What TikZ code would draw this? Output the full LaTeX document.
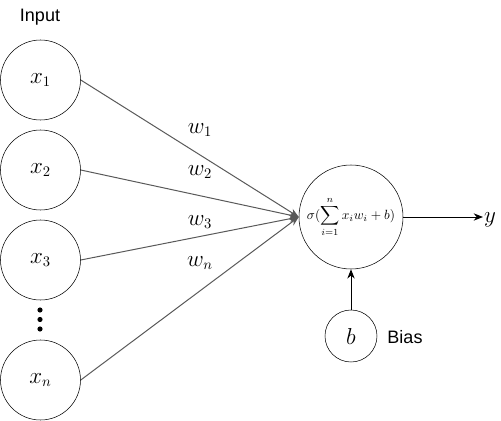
\documentclass[tikz,border=0pt]{standalone}
\usepackage{fontspec}
\usetikzlibrary{arrows.meta}
\newfontfamily\labelfont{Liberation Sans}

\tikzset{
  input/.style={draw, circle, minimum size=60pt, inner sep=0pt, font=\fontsize{16}{18}\selectfont},
  neuron/.style={draw, circle, minimum size=78pt, inner sep=0pt, font=\fontsize{10}{12}\selectfont},
  bias/.style={draw, circle, minimum size=39pt, inner sep=0pt, font=\fontsize{16}{18}\selectfont},
  weight/.style={font=\fontsize{16}{18}\selectfont},
  plain/.style={font=\labelfont\fontsize{13.5}{15}\selectfont},
  wire/.style={line width=0.75pt, -{Stealth[length=7pt,width=5.5pt]}},
}

\begin{document}
\begin{tikzpicture}[x=0.75pt,y=-0.75pt]
\useasboundingbox (0,0) rectangle (501,421);

\node[plain] (in) at (40,17) {Input};
\node[input] (1) at (40.5,80) {$x_1$};
\node[input] (2) at (40.5,170) {$x_2$};
\node[input] (3) at (40.5,260) {$x_3$};
\node[input] (4) at (40.5,380) {$x_n$};
\fill (40,310) circle (2.6);
\fill (40,319.5) circle (2.6);
\fill (40,329) circle (2.6);

\node[neuron] (5) at (351,217) {$\displaystyle\sigma(\sum_{i=1}^{n} x_iw_i+b)$};
\node[bias] (6) at (351,336) {$b$};
\node[plain] (bi) at (405,337) {Bias};
\node[weight] (y) at (490,220) {$y$};
\coordinate (out) at (483,217);

\node[weight] (w1) at (200,130) {$w_1$};
\node[weight] (w2) at (200,172) {$w_2$};
\node[weight] (w3) at (200,222) {$w_3$};
\node[weight] (wn) at (200,263) {$w_n$};

\draw[wire,black!65] (1.east) -- (5.west);
\draw[wire,black!65] (2.east) -- (5.west);
\draw[wire,black!65] (3.east) -- (5.west);
\draw[wire,black!65] (4.east) -- (5.west);

\draw[wire] (5.east) -- (out);
\draw[wire] (6.north) -- (5.south);
\end{tikzpicture}
\end{document}
